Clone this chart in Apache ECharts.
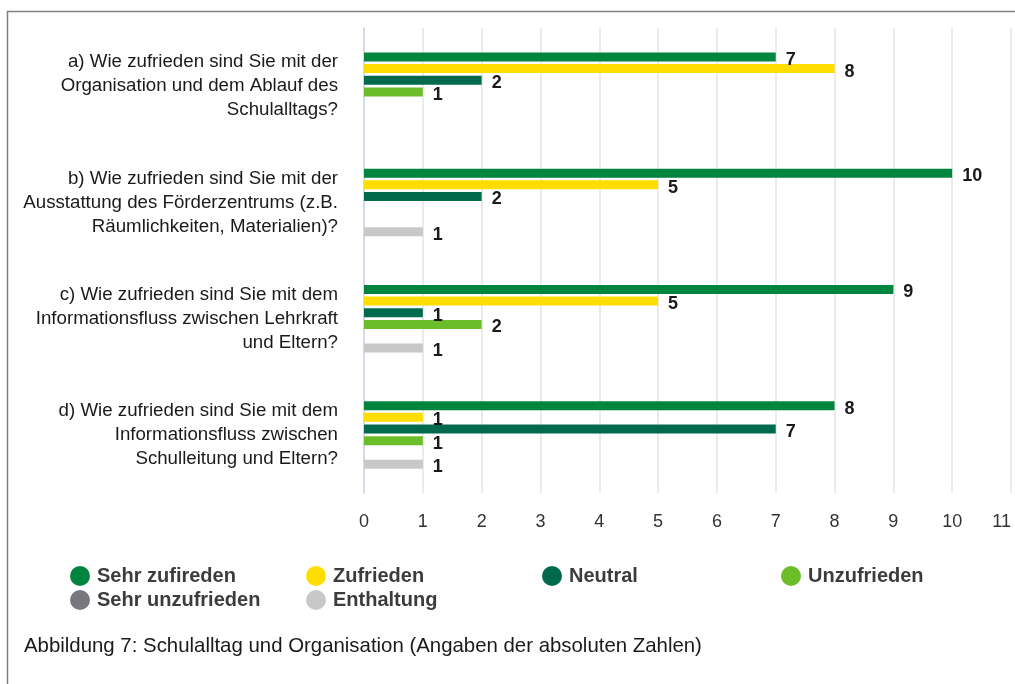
<!DOCTYPE html>
<html>
<head>
<meta charset="utf-8">
<title>Schulalltag und Organisation</title>
<script src="https://cdn.jsdelivr.net/npm/echarts@6/dist/echarts.min.js"></script>
<style>
  html, body { margin: 0; padding: 0; background: #fff; }
  #main { width: 1015px; height: 684px; }
</style>
</head>
<body>
<div id="main"></div>
<script>
// Fragen (Kategorien)
var categories = [
  'a) Wie zufrieden sind Sie mit der\nOrganisation und dem Ablauf des\nSchulalltags?',
  'b) Wie zufrieden sind Sie mit der\nAusstattung des Förderzentrums (z.B.\nRäumlichkeiten, Materialien)?',
  'c) Wie zufrieden sind Sie mit dem\nInformationsfluss zwischen Lehrkraft\nund Eltern?',
  'd) Wie zufrieden sind Sie mit dem\nInformationsfluss zwischen\nSchulleitung und Eltern?'
]

// Antworten (absolute Zahlen), null = keine Nennung
var sehrZufrieden = [7, 10, 9, 8]
var zufrieden = [8, 5, 5, 1]
var neutral = [2, 2, 1, 7]
var unzufrieden = [1, null, 2, 1]
var sehrUnzufrieden = [null, null, null, null]
var enthaltung = [null, 1, 1, 1]

var seriesNames = ['Sehr zufireden', 'Zufrieden', 'Neutral', 'Unzufrieden', 'Sehr unzufrieden', 'Enthaltung']
var seriesData = [sehrZufrieden, zufrieden, neutral, unzufrieden, sehrUnzufrieden, enthaltung]
var colors = ['#00853f', '#ffdd00', '#006a4e', '#6cbd2a', '#77787b', '#c8c8c8']

var xTicks = [0, 1, 2, 3, 4, 5, 6, 7, 8, 9, 10, 11]

var font = '"Liberation Sans", Arial, sans-serif'

var myChart = echarts.init(document.getElementById('main'))

var series = seriesNames.map(function (name, i) {
  return {
    name: name,
    type: 'bar',
    data: seriesData[i],
    barWidth: 9,
    barGap: '30%',
    barCategoryGap: '40%',
    itemStyle: { color: colors[i] },
    label: {
      show: true,
      position: 'right',
      distance: 10,
      offset: [0, 3],
      fontFamily: font,
      fontSize: 18,
      fontWeight: 'bold',
      color: '#1a1a1a'
    },
    emphasis: { disabled: true }
  }
})

// Legende in Spalten wie im Original
function legendCol (left, names) {
  return {
    left: left,
    top: 561,
    orient: 'vertical',
    icon: 'circle',
    itemWidth: 20,
    itemHeight: 20,
    itemGap: 4,
    selectedMode: false,
    data: names,
    textStyle: {
      fontFamily: font,
      fontSize: 20,
      fontWeight: 'bold',
      color: '#3c3c3c',
      padding: [0, 0, 0, 2]
    }
  }
}

var option = {
  animation: false,
  textStyle: { fontFamily: font },
  grid: {
    left: 364,
    right: 4,
    top: 28,
    bottom: 191
  },
  legend: [
    legendCol(65, [seriesNames[0], seriesNames[4]]),
    legendCol(301, [seriesNames[1], seriesNames[5]]),
    legendCol(537, [seriesNames[2]]),
    legendCol(776, [seriesNames[3]])
  ],
  xAxis: {
    type: 'value',
    min: xTicks[0],
    max: xTicks[xTicks.length - 1],
    interval: 1,
    axisLine: { show: false },
    axisTick: { show: false },
    splitLine: { lineStyle: { color: '#e4e4e4', width: 1.5 } },
    axisLabel: {
      margin: 20,
      fontFamily: font,
      fontSize: 18,
      color: '#333',
      alignMaxLabel: 'right'
    }
  },
  yAxis: {
    type: 'category',
    inverse: true,
    data: categories,
    axisLine: { lineStyle: { color: '#cdd6e8', width: 1.5 } },
    axisTick: { show: false },
    axisLabel: {
      margin: 26,
      fontFamily: font,
      fontSize: 18.7,
      lineHeight: 24,
      padding: [16, 0, 0, 0],
      color: '#1a1a1a',
      align: 'right'
    }
  },
  graphic: [
    {
      type: 'rect',
      shape: { x: 7.5, y: 11.5, width: 1200, height: 900 },
      style: { fill: 'none', stroke: '#808080', lineWidth: 1.5 },
      silent: true
    },
    {
      type: 'text',
      left: 24,
      top: 636,
      style: {
        text: 'Abbildung 7: Schulalltag und Organisation (Angaben der absoluten Zahlen)',
        fontFamily: font,
        fontSize: 20.4,
        fill: '#1a1a1a'
      }
    }
  ],
  series: series
}

myChart.setOption(option)
</script>
</body>
</html>
